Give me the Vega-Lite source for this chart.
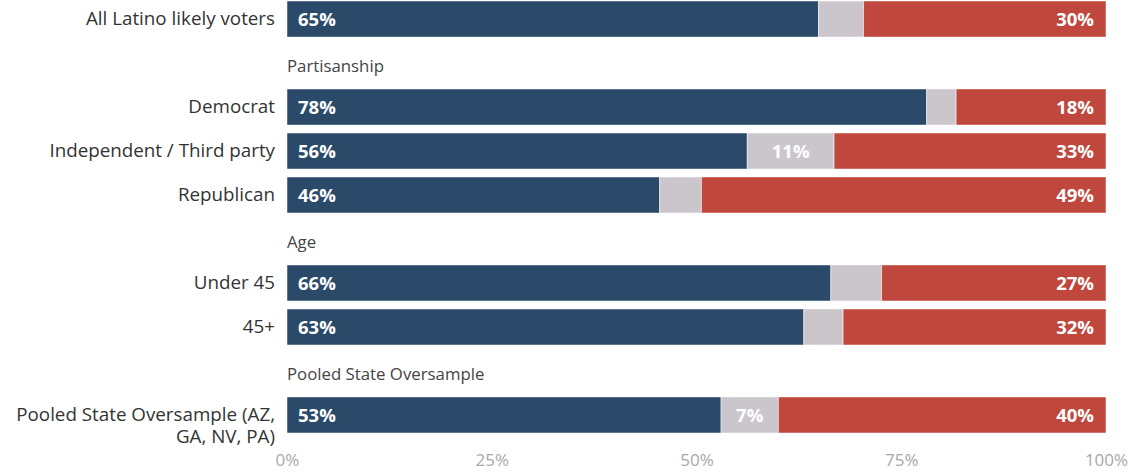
{
  "$schema": "https://vega.github.io/schema/vega-lite/v6.json",
  "width": 819,
  "height": 432,
  "autosize": {"type": "none"},
  "padding": {"left": 287, "right": 22, "top": 1, "bottom": 40},
  "background": "white",
  "config": {"view": {"stroke": null}, "font": "Open Sans"},
  "datasets": {
    "bars": [
      {"row": "All Latino likely voters", "seg": "a", "ord": 1, "value": 0.649},
      {"row": "All Latino likely voters", "seg": "b", "ord": 2, "value": 0.055},
      {"row": "All Latino likely voters", "seg": "c", "ord": 3, "value": 0.296},
      {"row": "Democrat", "seg": "a", "ord": 1, "value": 0.781},
      {"row": "Democrat", "seg": "b", "ord": 2, "value": 0.036},
      {"row": "Democrat", "seg": "c", "ord": 3, "value": 0.183},
      {"row": "Independent / Third party", "seg": "a", "ord": 1, "value": 0.562},
      {"row": "Independent / Third party", "seg": "b", "ord": 2, "value": 0.106},
      {"row": "Independent / Third party", "seg": "c", "ord": 3, "value": 0.332},
      {"row": "Republican", "seg": "a", "ord": 1, "value": 0.455},
      {"row": "Republican", "seg": "b", "ord": 2, "value": 0.051},
      {"row": "Republican", "seg": "c", "ord": 3, "value": 0.494},
      {"row": "Under 45", "seg": "a", "ord": 1, "value": 0.664},
      {"row": "Under 45", "seg": "b", "ord": 2, "value": 0.062},
      {"row": "Under 45", "seg": "c", "ord": 3, "value": 0.274},
      {"row": "45+", "seg": "a", "ord": 1, "value": 0.631},
      {"row": "45+", "seg": "b", "ord": 2, "value": 0.048},
      {"row": "45+", "seg": "c", "ord": 3, "value": 0.321},
      {"row": "Pooled State Oversample (AZ, GA, NV, PA)", "seg": "a", "ord": 1, "value": 0.530},
      {"row": "Pooled State Oversample (AZ, GA, NV, PA)", "seg": "b", "ord": 2, "value": 0.070},
      {"row": "Pooled State Oversample (AZ, GA, NV, PA)", "seg": "c", "ord": 3, "value": 0.400}
    ],
    "rows": [
      {"row": "All Latino likely voters", "label": "All Latino likely voters", "type": "item"},
      {"row": "Partisanship", "label": "Partisanship", "type": "header"},
      {"row": "Democrat", "label": "Democrat", "type": "item"},
      {"row": "Independent / Third party", "label": "Independent / Third party", "type": "item"},
      {"row": "Republican", "label": "Republican", "type": "item"},
      {"row": "Age", "label": "Age", "type": "header"},
      {"row": "Under 45", "label": "Under 45", "type": "item"},
      {"row": "45+", "label": "45+", "type": "item"},
      {"row": "Pooled State Oversample", "label": "Pooled State Oversample", "type": "header"},
      {"row": "Pooled State Oversample (AZ, GA, NV, PA)", "label": "Pooled State Oversample (AZ,\nGA, NV, PA)", "type": "item"}
    ]
  },
  "resolve": {"scale": {"x": "shared", "y": "shared"}},
  "layer": [
    {
      "data": {"name": "bars"},
      "mark": {"type": "bar", "stroke": "white", "strokeWidth": 0.5},
      "encoding": {
        "y": {
          "field": "row", "type": "nominal",
          "scale": {
            "domain": ["All Latino likely voters", "Partisanship", "Democrat", "Independent / Third party", "Republican", "Age", "Under 45", "45+", "Pooled State Oversample", "Pooled State Oversample (AZ, GA, NV, PA)"],
            "paddingInner": 0.18, "paddingOuter": 0
          },
          "axis": null
        },
        "x": {
          "field": "value", "type": "quantitative", "stack": "zero",
          "scale": {"domain": [0, 1], "nice": false},
          "axis": {
            "values": [0, 0.25, 0.5, 0.75, 1], "format": ".0%", "title": null,
            "domain": false, "ticks": false, "grid": false,
            "labelColor": "#a8a8a8", "labelFontSize": 17, "labelPadding": 19,
            "labelFont": "Open Sans", "labelFlush": false
          }
        },
        "order": {"field": "ord", "type": "quantitative"},
        "color": {
          "field": "seg", "type": "nominal", "legend": null,
          "scale": {"domain": ["a", "b", "c"], "range": ["#2b4a69", "#cbc6cc", "#c0473d"]}
        }
      }
    },
    {
      "data": {"name": "bars"},
      "transform": [
        {"stack": "value", "groupby": ["row"], "sort": [{"field": "ord"}], "as": ["x0", "x1"]},
        {"filter": "datum.seg == 'a'"}
      ],
      "mark": {"type": "text", "align": "left", "baseline": "middle", "dx": 11, "dy": 1, "color": "white", "fontWeight": "bold", "fontSize": 18.5, "font": "Open Sans"},
      "encoding": {
        "y": {"field": "row", "type": "nominal"},
        "x": {"field": "x0", "type": "quantitative"},
        "text": {"field": "value", "type": "quantitative", "format": ".0%"}
      }
    },
    {
      "data": {"name": "bars"},
      "transform": [
        {"stack": "value", "groupby": ["row"], "sort": [{"field": "ord"}], "as": ["x0", "x1"]},
        {"filter": "datum.seg == 'c'"}
      ],
      "mark": {"type": "text", "align": "right", "baseline": "middle", "dx": -12, "dy": 1, "color": "white", "fontWeight": "bold", "fontSize": 18.5, "font": "Open Sans"},
      "encoding": {
        "y": {"field": "row", "type": "nominal"},
        "x": {"field": "x1", "type": "quantitative"},
        "text": {"field": "value", "type": "quantitative", "format": ".0%"}
      }
    },
    {
      "data": {"name": "bars"},
      "transform": [
        {"stack": "value", "groupby": ["row"], "sort": [{"field": "ord"}], "as": ["x0", "x1"]},
        {"filter": "datum.seg == 'b' && datum.value >= 0.065"},
        {"calculate": "(datum.x0 + datum.x1) / 2", "as": "xm"}
      ],
      "mark": {"type": "text", "align": "center", "baseline": "middle", "dy": 1, "color": "white", "fontWeight": "bold", "fontSize": 18.5, "font": "Open Sans"},
      "encoding": {
        "y": {"field": "row", "type": "nominal"},
        "x": {"field": "xm", "type": "quantitative"},
        "text": {"field": "value", "type": "quantitative", "format": ".0%"}
      }
    },
    {
      "data": {"name": "rows"},
      "transform": [{"filter": "datum.type == 'item'"}],
      "mark": {"type": "text", "align": "right", "baseline": "middle", "dx": -12, "color": "#333333", "fontSize": 18.8, "font": "Open Sans", "lineBreak": "\n", "lineHeight": 22},
      "encoding": {
        "y": {"field": "row", "type": "nominal"},
        "x": {"datum": 0, "type": "quantitative"},
        "text": {"field": "label"}
      }
    },
    {
      "data": {"name": "rows"},
      "transform": [{"filter": "datum.type == 'header'"}],
      "mark": {"type": "text", "align": "left", "baseline": "middle", "dx": 0, "dy": 4, "color": "#444444", "fontSize": 16.8, "font": "Open Sans"},
      "encoding": {
        "y": {"field": "row", "type": "nominal"},
        "x": {"datum": 0, "type": "quantitative"},
        "text": {"field": "label"}
      }
    }
  ]
}
